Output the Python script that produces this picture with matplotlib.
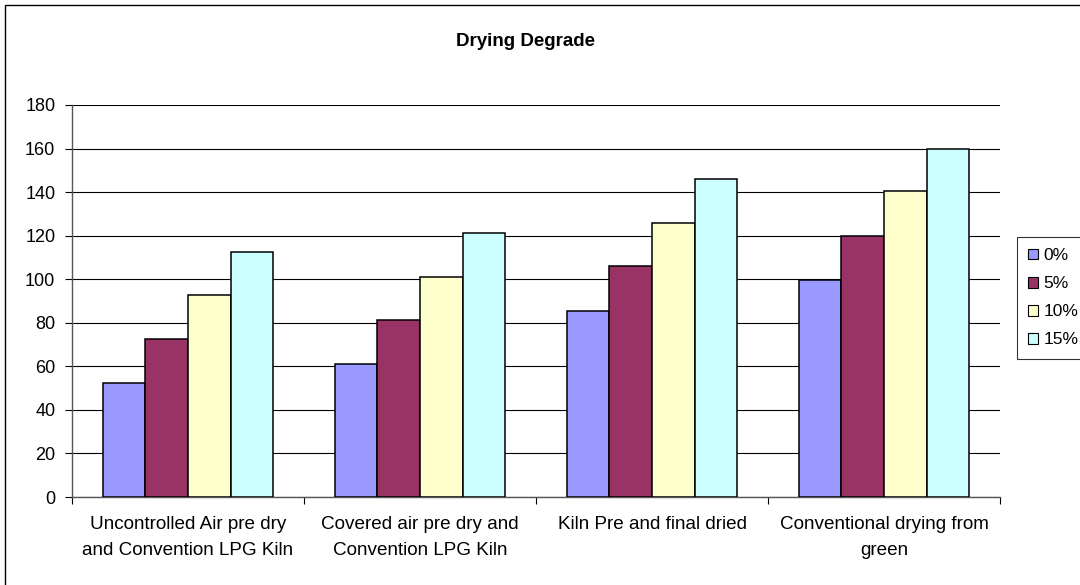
import numpy as np
import matplotlib
matplotlib.use('Agg')
import matplotlib.pyplot as plt
from matplotlib.patches import Rectangle, Patch

# Degrade by drying method, for each moisture allowance
categories = ["Uncontrolled Air pre dry\nand Convention LPG Kiln",
              "Covered air pre dry and\nConvention LPG Kiln",
              "Kiln Pre and final dried",
              "Conventional drying from\ngreen"]
series_names = ["0%", "5%", "10%", "15%"]
vals_0 = [52.5, 61, 85.6, 99.6]
vals_5 = [72.4, 81.4, 106, 120]
vals_10 = [92.6, 101, 125.8, 140.5]
vals_15 = [112.3, 121.4, 146, 160]
colors = ['#9999FF', '#993366', '#FFFFCC', '#CCFFFF']
yticks = list(range(0, 181, 20))

plt.rcParams['font.family'] = ['Liberation Sans', 'DejaVu Sans']

fig = plt.figure(figsize=(10.8, 5.85), dpi=100)
ax = fig.add_axes([72 / 1080, 88 / 585, 928 / 1080, 392 / 585])

x = np.arange(len(categories))
w = 0.1836
all_vals = [vals_0, vals_5, vals_10, vals_15]
for i, (vals, col) in enumerate(zip(all_vals, colors)):
    ax.bar(x + (i - 1.5) * w, vals, width=w, color=col,
           edgecolor='black', linewidth=1.1, zorder=3)

ax.set_xlim(-0.5, len(categories) - 0.5)
ax.set_ylim(0, 180)
ax.set_yticks(yticks)
ax.set_yticklabels([str(t) for t in yticks], fontsize=13)
ax.yaxis.grid(True, color='black', linewidth=0.8, zorder=0)
ax.set_axisbelow(True)

ax.set_xticks(x)
ax.set_xticklabels(categories, fontsize=13.6, linespacing=1.65)
ax.set_xticks(np.arange(len(categories) + 1) - 0.5, minor=True)
ax.tick_params(axis='x', which='major', length=0, pad=14)
ax.tick_params(axis='x', which='minor', length=5, direction='out', width=0.8)
ax.tick_params(axis='y', length=5, direction='out', width=0.8, pad=7)

for side in ['top', 'right']:
    ax.spines[side].set_visible(False)
for side in ['left', 'bottom']:
    ax.spines[side].set_color('#555555')
    ax.spines[side].set_linewidth(1.0)

fig.text(525 / 1080, 1 - 42 / 585, "Drying Degrade", ha='center', va='center',
         fontsize=13.5, fontweight='bold')

handles = [Patch(facecolor=c, edgecolor='black', linewidth=0.8) for c in colors]
leg = fig.legend(handles, series_names, loc='upper left',
                 bbox_to_anchor=(1017 / 1080, 1 - 237 / 585),
                 fontsize=12.5, frameon=True, fancybox=False,
                 handlelength=0.57, handleheight=0.57, handletextpad=0.3,
                 labelspacing=0.75, borderpad=0.65, borderaxespad=0)
leg.get_frame().set_edgecolor('black')
leg.get_frame().set_linewidth(0.8)

# outer chart border, running off the right and bottom edges
fig.patches.append(Rectangle((5 / 1080, -0.1), 1.2, 1.1 - 5 / 585,
                             transform=fig.transFigure, fill=False,
                             edgecolor='black', linewidth=1.0))

fig.savefig('out.png', dpi=100)
